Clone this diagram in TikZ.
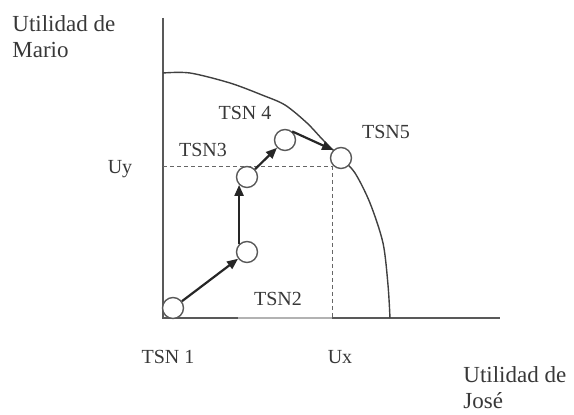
\documentclass[tikz,border=0pt]{standalone}
\usepackage{fontspec}
\setmainfont{Liberation Serif}
\usepackage{tikz}
\usetikzlibrary{arrows.meta, positioning}
\colorlet{axisgray}{black!65}
\colorlet{textgray}{black!78}

\tikzset{
  tsn/.style={circle, draw=axisgray, line width=0.7pt, fill=white, minimum size=10.5pt, inner sep=0pt},
  lbl/.style={text=textgray, font=\fontsize{10}{12}\selectfont, inner sep=0pt},
  axlbl/.style={text=textgray, font=\fontsize{11.5}{13}\selectfont, align=left, inner sep=0pt},
  move/.style={-{Triangle[length=5.5pt, width=4.5pt]}, line width=1.1pt, draw=black!85, fill=black!85}
}

\begin{document}
\begin{tikzpicture}[x=0.5pt, y=-0.5pt]
    \useasboundingbox (0,0) rectangle (574,415);

    % ejes
    \draw[axisgray, line width=0.9pt] (163,18) -- (163,318) -- (238,318);
    \draw[black!30, line width=0.9pt] (238,318) -- (332,318);
    \draw[axisgray, line width=0.9pt] (332,318) -- (500,318);

    % frontera de utilidades
    \draw[black!75, line width=0.7pt] plot[smooth, tension=0.5] coordinates {(163,73) (190,73) (230,83) (262,95) (285,105) (307,123) (323,140) (341,158) (355,173) (370,203) (383,243) (388,285) (390,318)};

    % niveles Ux, Uy
    \coordinate (uy) at (163,167);
    \coordinate (ux) at (332,318);
    \draw[black!60, line width=0.5pt, dash pattern=on 2pt off 1.5pt] (uy) -- (uy -| ux) -- (ux);

    \node[tsn] (c1) at (173,308) {};
    \node[tsn] (c2) at (247,252) {};
    \node[tsn] (c3) at (247,177) {};
    \node[tsn] (c4) at (285,140) {};
    \node[tsn] (c5) at (341,158) {};

    \draw[move] (c1) -- (c2);
    \draw[move] (c2.135) -- (c3.225);
    \draw[move] (c3) -- (c4);
    \draw[move] (c4.50) -- (c5.135);

    \node[lbl] (l1) at (168,357) {TSN 1};
    \node[lbl] (l2) at (278,299) {TSN2};
    \node[lbl] (l3) at (203,150) {TSN3};
    \node[lbl] (l4) at (245,113) {TSN 4};
    \node[lbl] (l5) at (386,132) {TSN5};
    \node[lbl] (luy) at (120,169) {Uy};
    \node[lbl] (lux) at (340,357) {Ux};

    \node[axlbl, anchor=west] (ym) at (12,37) {Utilidad de\\Mario};
    \node[axlbl, anchor=west] (xj) at (463,388) {Utilidad de\\José};
\end{tikzpicture}
\end{document}
